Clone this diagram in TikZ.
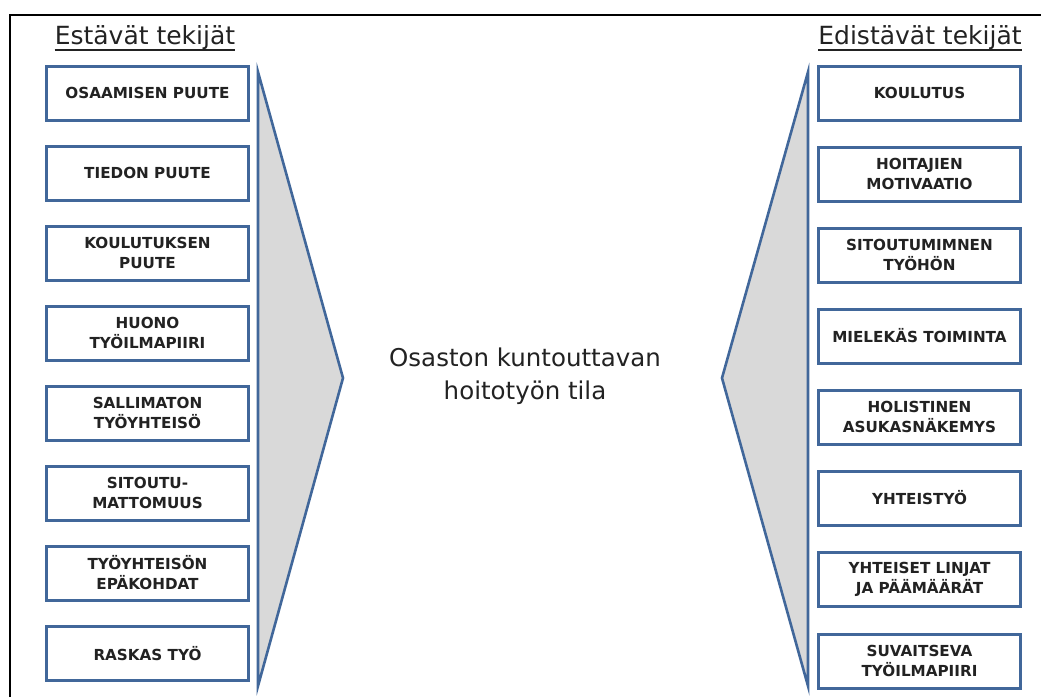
\documentclass[tikz,border=0pt]{standalone}
\usepackage{fontspec}
\setmainfont{DejaVu Sans}
\begin{document}
\begin{tikzpicture}[x=1pt,y=-1pt,
  factor/.style={draw=boxblue,line width=3pt,fill=white,minimum width=202pt,minimum height=54pt,
    align=center,inner sep=0pt,font=\fontsize{15.2}{20}\selectfont\bfseries,text=txt},
  wedge/.style={draw=boxblue,line width=2.6pt,fill=wedgegray,line join=miter},
  heading/.style={font=\fontsize{25}{28}\selectfont,text=txt,anchor=base,inner sep=0pt},
  rule/.style={line width=1.6pt,draw=txt}]
\definecolor{boxblue}{HTML}{41679A}
\definecolor{wedgegray}{HTML}{D9D9D9}
\definecolor{txt}{HTML}{222222}
\useasboundingbox (0,0) rectangle (1041,697);
% frame, open to the right and bottom
\draw[line width=2pt] (10,697) -- (10,15) -- (1041,15);
% headings with underlines
\node[heading] (hl) at (145,44) {Estävät tekijät};
\node[heading] (hr) at (920,44) {Edistävät tekijät};
\path (hl.west |- 0,50) coordinate (ulA) (hl.east |- 0,50) coordinate (ulB);
\path (hr.west |- 0,50) coordinate (urA) (hr.east |- 0,50) coordinate (urB);
\draw[rule] (ulA) -- (ulB);
\draw[rule] (urA) -- (urB);
% wedges
\draw[wedge] (258,72) -- (343,378) -- (258,686) -- cycle;
\draw[wedge] (808,72) -- (722,378) -- (808,686) -- cycle;
% hindering factors
\node[factor] (l1) at (147.5,93) {OSAAMISEN PUUTE};
\node[factor] (l2) at (147.5,173) {TIEDON PUUTE};
\node[factor] (l3) at (147.5,253) {KOULUTUKSEN\\PUUTE};
\node[factor] (l4) at (147.5,333) {HUONO\\TYÖILMAPIIRI};
\node[factor] (l5) at (147.5,413) {SALLIMATON\\TYÖYHTEISÖ};
\node[factor] (l6) at (147.5,493) {SITOUTU-\\MATTOMUUS};
\node[factor] (l7) at (147.5,573) {TYÖYHTEISÖN\\EPÄKOHDAT};
\node[factor] (l8) at (147.5,653.5) {RASKAS TYÖ};
% promoting factors
\node[factor] (r1) at (919.5,93) {KOULUTUS};
\node[factor] (r2) at (919.5,174) {HOITAJIEN\\MOTIVAATIO};
\node[factor] (r3) at (919.5,255) {SITOUTUMIMNEN\\TYÖHÖN};
\node[factor] (r4) at (919.5,336) {MIELEKÄS TOIMINTA};
\node[factor] (r5) at (919.5,417) {HOLISTINEN\\ASUKASNÄKEMYS};
\node[factor] (r6) at (919.5,498) {YHTEISTYÖ};
\node[factor] (r7) at (919.5,579) {YHTEISET LINJAT\\JA PÄÄMÄÄRÄT};
\node[factor] (r8) at (919.5,661) {SUVAITSEVA\\TYÖILMAPIIRI};
% centre
\node[align=center,font=\fontsize{24.5}{33}\selectfont,text=txt] (c) at (525,376)
  {Osaston kuntouttavan\\hoitotyön tila};
\end{tikzpicture}
\end{document}
